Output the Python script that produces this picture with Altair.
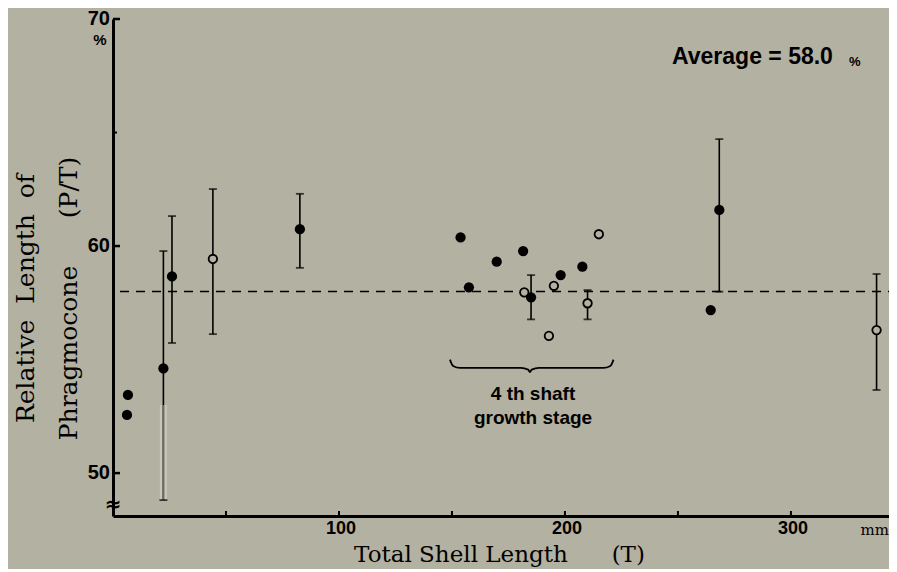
import altair as alt
import pandas as pd

BG = "#b3b1a1"

# ---- data ----
shell_len = [6.6, 6.2, 22.3, 26.1, 44.2, 82.7, 153.8, 157.5, 169.8, 181.5, 198.1,
             207.7, 185.0, 182.0, 195.1, 192.9, 215.0, 210.0, 268.3, 264.5, 337.9]
rel_len = [53.44, 52.56, 54.61, 58.66, 59.43, 60.74, 60.38, 58.18, 59.31, 59.78, 58.72,
           59.09, 57.74, 57.96, 58.25, 56.04, 60.52, 57.48, 61.59, 57.18, 56.30]
kind = ["filled", "filled", "filled", "filled", "open", "filled", "filled", "filled",
        "filled", "filled", "filled", "filled", "filled", "open", "open", "open",
        "open", "open", "filled", "filled", "open"]

err_x = [22.3, 26.1, 44.2, 82.7, 185.0, 210.0, 268.3, 337.9]
err_lo = [48.81, 55.73, 56.12, 59.04, 56.77, 56.77, 57.99, 53.66]
err_hi = [59.78, 61.32, 62.51, 62.30, 58.72, 58.06, 64.71, 58.77]

# faded (poorly printed) lower part of one bar
faded_x = [22.3]
faded_top = [53.0]
faded_bottom = [48.81]

average = 58.0
y_tick_values = [50, 60, 70]
y_minor_ticks = [65]
x_tick_values = [50, 100, 150, 200, 250, 300]
x_label_values = [100, 200, 300]

# brace over the 4th shaft growth stage
brace_left, brace_mid, brace_right = 149.1, 184.5, 221.5
brace_end_y, brace_line_y, brace_tip_y = 55.0, 54.63, 54.45

NB = "\u00a0"
W, H = 776, 497
x_scale = alt.Scale(domain=[0, 343.4], nice=False, zero=False)
y_scale = alt.Scale(domain=[48.11, 70], nice=False, zero=False)

x_axis = alt.Axis(values=x_label_values, ticks=False, labels=False,
                  title="Total Shell Length" + NB * 6 + "(T)",
                  titleX=386, titleY=45, titleAlign="center", titleBaseline="alphabetic")
y_axis = alt.Axis(values=y_tick_values, ticks=False, labels=False,
                  title=["Relative" + NB * 2 + "Length" + NB * 2 + "of",
                         "Phragmocone" + NB * 6 + "(P/T)"],
                  titleAngle=270, titleX=-80, titleY=279, titleAlign="center",
                  titleBaseline="alphabetic", titleLineHeight=43)

pts = pd.DataFrame({"T": shell_len, "R": rel_len, "kind": kind})
errs = pd.DataFrame({"T": err_x, "lo": err_lo, "hi": err_hi})
caps = pd.concat([errs[["T"]].assign(v=errs["lo"]), errs[["T"]].assign(v=errs["hi"])])
faded = pd.DataFrame({"T": faded_x, "top": faded_top, "bottom": faded_bottom})

# brace path built from its end/middle positions
bl, bm, br = brace_left, brace_mid, brace_right
brace = pd.DataFrame({
    "i": list(range(11)),
    "T": [bl, bl + 1.4, bl + 4.5, bm - 4.0, bm - 0.8, bm, bm + 0.8, bm + 4.0, br - 4.5, br - 1.4, br],
    "v": [brace_end_y, brace_line_y + 0.09, brace_line_y, brace_line_y, brace_line_y - 0.07,
          brace_tip_y, brace_line_y - 0.07, brace_line_y, brace_line_y, brace_line_y + 0.09, brace_end_y],
})

X = lambda f, **kw: alt.X(f, scale=x_scale, axis=x_axis, **kw)
Y = lambda f, **kw: alt.Y(f, scale=y_scale, axis=y_axis, **kw)

# tick labels drawn as text at the tick values (scale-positioned)
ylab = alt.Chart(pd.DataFrame({"v": y_tick_values})).mark_text(
    font="Liberation Sans", fontWeight="bold", fontSize=20, align="right", baseline="middle",
    color="black", dx=-3).encode(y=Y("v:Q"), x=alt.value(0), text=alt.Text("v:Q", format="d"))
xlab = alt.Chart(pd.DataFrame({"v": x_label_values})).mark_text(
    font="Liberation Sans", fontWeight="bold", fontSize=18, align="center", baseline="top",
    color="black", dx=2).encode(x=X("v:Q"), y=alt.value(H + 4), text=alt.Text("v:Q", format="d"))

ytick = alt.Chart(pd.DataFrame({"v": y_tick_values})).mark_rule(color="black", strokeWidth=2.5).encode(
    y=Y("v:Q"), x=alt.value(0), x2=alt.value(7))
yminor = alt.Chart(pd.DataFrame({"v": y_minor_ticks})).mark_rule(color="black", strokeWidth=2).encode(
    y=Y("v:Q"), x=alt.value(0), x2=alt.value(4))
xtick = alt.Chart(pd.DataFrame({"v": x_tick_values})).mark_rule(color="black", strokeWidth=2).encode(
    x=X("v:Q"), y=alt.value(H), y2=alt.value(H - 5))

avg_line = alt.Chart(pd.DataFrame({"v": [average]})).mark_rule(
    color="black", strokeWidth=1.5, strokeDash=[9, 7]).encode(
    y=Y("v:Q"), x=alt.value(7), x2=alt.value(W))

faded_halo = alt.Chart(faded).mark_rule(color="#c8c6b8", strokeWidth=7).encode(
    x=X("T:Q"), y=Y("bottom:Q"), y2="top:Q")
bars = alt.Chart(errs).mark_rule(color="black", strokeWidth=1.6).encode(
    x=X("T:Q"), y=Y("lo:Q"), y2="hi:Q")
faded_line = alt.Chart(faded).mark_rule(color="#6d6c63", strokeWidth=1.3).encode(
    x=X("T:Q"), y=Y("bottom:Q"), y2="top:Q")
cap_marks = alt.Chart(caps).mark_tick(color="black", orient="horizontal", size=8, thickness=1.8).encode(
    x=X("T:Q"), y=Y("v:Q"))

filled = alt.Chart(pts).transform_filter(alt.datum.kind == "filled").mark_circle(
    size=105, color="black", opacity=1).encode(x=X("T:Q"), y=Y("R:Q"))
opened = alt.Chart(pts).transform_filter(alt.datum.kind == "open").mark_circle(
    size=72, fill=BG, stroke="black", strokeWidth=1.8, opacity=1).encode(x=X("T:Q"), y=Y("R:Q"))

brace_line = alt.Chart(brace).mark_line(color="black", strokeWidth=1.8, interpolate="monotone").encode(
    x=X("T:Q"), y=Y("v:Q"), order="i:Q")

def label(txt, x, y, size, font="Liberation Sans", weight="bold", align="left", baseline="alphabetic"):
    return alt.Chart(pd.DataFrame({"t": [txt]})).mark_text(
        font=font, fontSize=size, fontWeight=weight, align=align, baseline=baseline, color="black").encode(
        x=alt.value(x), y=alt.value(y), text="t:N")

texts = [
    label("Average = 58.0", 559, 45, 23),
    label("%", 736, 47, 13),
    label("4 th shaft", 420, 381, 19, align="center"),
    label("growth stage", 420, 405, 19, align="center"),
    label("%", -13, 21, 15, align="center", baseline="middle"),
    label("mm", W, 516, 15, font="DejaVu Serif", weight="normal", align="right"),
    label("\u2248", 0, 486, 20, font="DejaVu Sans", weight="bold", align="center", baseline="middle"),
]

chart = alt.layer(
    filled, avg_line, faded_halo, bars, faded_line, cap_marks, ytick, yminor, xtick,
    ylab, xlab, opened, brace_line, *texts
).properties(
    width=W, height=H, background=BG, autosize="none",
    padding={"left": 105, "top": 11, "right": 0, "bottom": 53},
).configure_axis(
    domainColor="black", domainWidth=3, titleColor="black", grid=False,
    titleFont="DejaVu Serif", titleFontWeight="normal",
).configure_axisX(
    titleFontSize=23,
).configure_axisY(
    titleFontSize=25,
).configure_view(stroke=None)

chart.save("out.html", embed_options={"renderer": "svg", "actions": False})
